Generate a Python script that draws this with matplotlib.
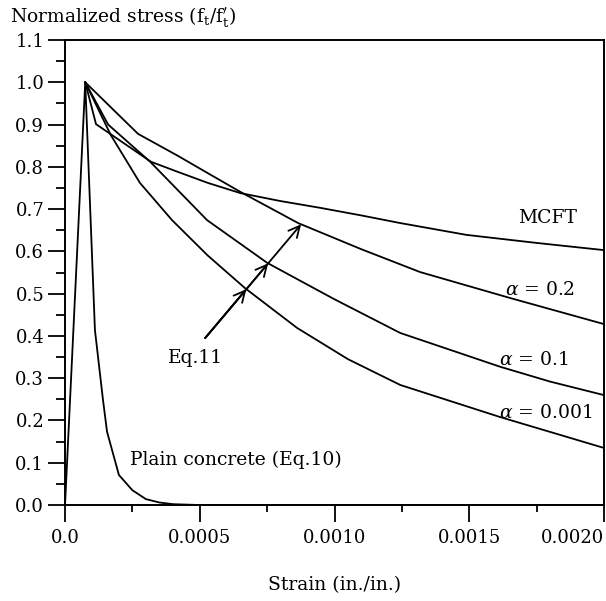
import numpy as np
import matplotlib
matplotlib.use("Agg")
import matplotlib.pyplot as plt
from matplotlib.ticker import MultipleLocator

plt.rcParams['font.family'] = 'DejaVu Serif'
plt.rcParams['mathtext.fontset'] = 'dejavuserif'
plt.rcParams['axes.unicode_minus'] = False

# tension stiffening curves, strain in in./in., stress normalised by f't
plain_x = [0.0, 0.000075, 0.000111, 0.000141, 0.000156, 0.0002, 0.00025, 0.0003, 0.00035, 0.0004, 0.0005, 0.002]
plain_y = [0.0, 1.0, 0.414, 0.248, 0.173, 0.071, 0.035, 0.014, 0.006, 0.002, 0.0, 0.0]

mcft_x = [0.000075, 0.000115, 0.000319, 0.000419, 0.00053, 0.00065, 0.0008, 0.000947,
          0.0011, 0.001244, 0.00149, 0.00175, 0.002]
mcft_y = [1.0, 0.901, 0.812, 0.788, 0.762, 0.738, 0.719, 0.703, 0.685, 0.667, 0.639, 0.62, 0.603]

a02_x = [0.000075, 0.000271, 0.000419, 0.00053, 0.00065, 0.000865, 0.0011, 0.001318, 0.00165, 0.002]
a02_y = [1.0, 0.878, 0.826, 0.785, 0.741, 0.667, 0.605, 0.551, 0.49, 0.428]

a01_x = [0.000075, 0.00016, 0.000316, 0.000527, 0.00075, 0.00088, 0.000999, 0.001244,
         0.001615, 0.0018, 0.002]
a01_y = [1.0, 0.9, 0.812, 0.674, 0.573, 0.528, 0.487, 0.407, 0.327, 0.292, 0.26]

a0001_x = [0.000075, 0.00017, 0.000278, 0.000397, 0.00053, 0.000668, 0.000861, 0.00105,
           0.001244, 0.001615, 0.002]
a0001_y = [1.0, 0.875, 0.762, 0.674, 0.59, 0.513, 0.419, 0.345, 0.284, 0.208, 0.135]

xticks = [0.0, 0.0005, 0.0010, 0.0015, 0.0020]
xticklabels = ['0.0', '0.0005', '0.0010', '0.0015', '0.0020']
yticks = [0.0, 0.1, 0.2, 0.3, 0.4, 0.5, 0.6, 0.7, 0.8, 0.9, 1.0, 1.1]
yticklabels = ['%.1f' % v for v in yticks]

fig = plt.figure(figsize=(6.06, 6.01), dpi=100)
ax = fig.add_axes([0.1073, 0.1597, 0.8894, 0.7737])

lw = 1.3
ax.plot(plain_x, plain_y, color='black', lw=lw)
ax.plot(mcft_x, mcft_y, color='black', lw=lw)
ax.plot(a02_x, a02_y, color='black', lw=lw)
ax.plot(a01_x, a01_y, color='black', lw=lw)
ax.plot(a0001_x, a0001_y, color='black', lw=lw)

ax.set_xlim(0, 0.002)
ax.set_ylim(0, 1.1)
ax.set_xticks(xticks)
ax.set_xticklabels(xticklabels)
ax.set_yticks(yticks)
ax.set_yticklabels(yticklabels)
ax.get_xticklabels()[-1].set_horizontalalignment('right')
ax.xaxis.set_minor_locator(MultipleLocator(0.00025))
ax.yaxis.set_minor_locator(MultipleLocator(0.05))
ax.tick_params(axis='both', which='major', direction='out', length=12, width=1.3,
               labelsize=13, colors='black')
ax.tick_params(axis='y', which='minor', direction='out', length=6.5, width=1.3)
ax.tick_params(axis='x', which='minor', direction='out', length=5, width=1.3)
ax.tick_params(axis='x', which='major', pad=5)
ax.tick_params(axis='y', which='major', pad=3)
for s in ax.spines.values():
    s.set_linewidth(1.4)


# Eq.11 arrow: one straight line with a head where it meets each alpha curve
def crossing(p0, p1, cx, cy):
    t = np.linspace(0, 1, 4001)
    px = p0[0] + t * (p1[0] - p0[0])
    py = p0[1] + t * (p1[1] - p0[1])
    d = py - np.interp(px, cx, cy)
    i = np.where(np.sign(d[:-1]) != np.sign(d[1:]))[0][0]
    return px[i], py[i]


tail = (0.00052, 0.395)
aim = (0.00095, 0.72)
for cx, cy in [(a0001_x, a0001_y), (a01_x, a01_y), (a02_x, a02_y)]:
    hit = crossing(tail, aim, cx, cy)
    ax.annotate('', xy=hit, xytext=tail,
                arrowprops=dict(arrowstyle='->,head_length=0.8,head_width=0.4',
                                color='black', lw=1.3, shrinkA=0, shrinkB=0))

fs = 13.5
ax.text(0.0019, 0.678, 'MCFT', ha='right', va='center', fontsize=fs)
ax.text(0.00189, 0.509, r'$\alpha$ = 0.2', ha='right', va='center', fontsize=fs)
ax.text(0.00161, 0.343, r'$\alpha$ = 0.1', ha='left', va='center', fontsize=fs)
ax.text(0.00161, 0.218, r'$\alpha$ = 0.001', ha='left', va='center', fontsize=fs)
ax.text(0.000382, 0.348, 'Eq.11', ha='left', va='center', fontsize=fs)
ax.text(0.00024, 0.106, 'Plain concrete (Eq.10)', ha='left', va='center', fontsize=fs)

fig.text(10 / 606, 1 - 17 / 601,
         r'Normalized stress (f$_\mathrm{t}$/f$^\prime_\mathrm{t}$)',
         ha='left', va='center', fontsize=fs)
fig.text(0.552, 1 - 585 / 601, 'Strain (in./in.)', ha='center', va='center', fontsize=fs)

fig.savefig('out.png', dpi=100)
